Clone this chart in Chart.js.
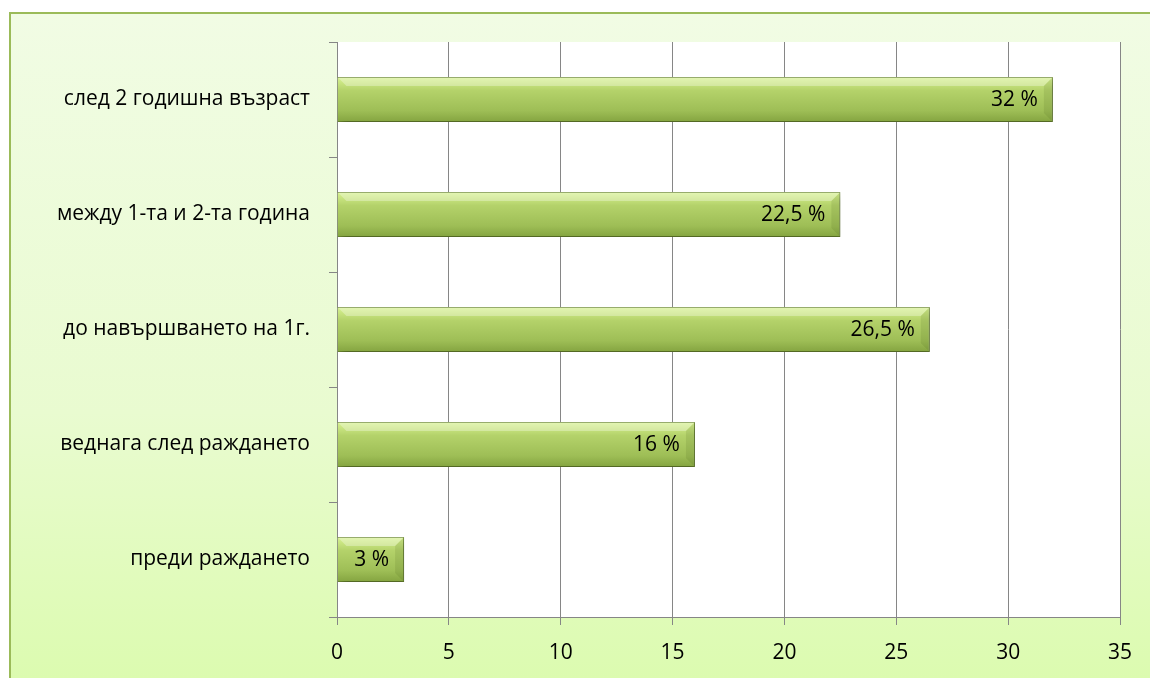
<!DOCTYPE html>
<html>
<head>
<meta charset="utf-8">
<script src="https://cdn.jsdelivr.net/npm/chart.js@4"></script>
<style>
  body { margin: 0; background: #ffffff; }
  #frame {
    position: absolute; left: 9px; top: 12px; width: 1141px; height: 666px;
    border-left: 2px solid #9bbb59; border-top: 2px solid #9bbb59;
    background: linear-gradient(to bottom, #f1fce4 0%, #e9fbd0 60%, #dcfbb0 100%);
    box-sizing: border-box;
  }
  #chart { position: absolute; left: 0; top: 0; }
</style>
</head>
<body>
<div id="frame"></div>
<canvas id="chart" width="1150" height="678"></canvas>
<script>
// categories top to bottom
const categories = [
    'след 2 годишна възраст',
    'между 1-та и 2-та година',
    'до навършването на 1г.',
    'веднага след раждането',
    'преди раждането'
];
const values = [32, 22.5, 26.5, 16, 3];
const valueLabels = ['32 %', '22,5 %', '26,5 %', '16 %', '3 %'];
const xTicks = [0, 5, 10, 15, 20, 25, 30, 35];

const FONT = '"Open Sans", "DejaVu Sans", sans-serif';
const FONT_SIZE = 21;
const BAR_PCT = 0.39;

// white plot area, bar shadow, bevel and value labels
const plotBg = {
    id: 'plotBg',
    beforeDraw(chart) {
        const a = chart.chartArea, ctx = chart.ctx;
        ctx.save();
        ctx.fillStyle = '#ffffff';
        ctx.fillRect(a.left, a.top, a.right - a.left, a.bottom - a.top);
        ctx.restore();
    },
    beforeDatasetsDraw(chart) {
        const ctx = chart.ctx;
        ctx.save();
        ctx.shadowColor = 'rgba(0,0,0,0.3)';
        ctx.shadowBlur = 7;
        ctx.shadowOffsetX = 3;
        ctx.shadowOffsetY = 4;
    },
    afterDatasetsDraw(chart) {
        chart.ctx.restore();
        const ctx = chart.ctx;
        const meta = chart.getDatasetMeta(0);
        meta.data.forEach((bar, i) => {
            const top = bar.y - bar.height / 2;
            const bot = bar.y + bar.height / 2;
            const left = bar.base, right = bar.x;
            ctx.save();
            ctx.fillStyle = 'rgba(255,255,255,0.3)';
            ctx.beginPath();
            ctx.moveTo(left, top); ctx.lineTo(right, top);
            ctx.lineTo(right - 9, top + 9); ctx.lineTo(left + 9, top + 9);
            ctx.closePath(); ctx.fill();
            ctx.fillStyle = 'rgba(60,80,20,0.12)';
            ctx.beginPath();
            ctx.moveTo(right, top); ctx.lineTo(right, bot);
            ctx.lineTo(right - 9, bot - 9); ctx.lineTo(right - 9, top + 9);
            ctx.closePath(); ctx.fill();
            ctx.fillStyle = '#000000';
            ctx.font = FONT_SIZE + 'px ' + FONT;
            ctx.textAlign = 'right';
            ctx.textBaseline = 'middle';
            ctx.fillText(valueLabels[i], right - 15, bar.y + 1);
            ctx.restore();
        });
    }
};

function barGradient(context) {
    const chart = context.chart;
    const a = chart.chartArea;
    const ys = chart.scales && chart.scales.y;
    if (!a || !ys || context.dataIndex === undefined) return '#9bbb59';
    const cy = ys.getPixelForValue(context.dataIndex);
    const h = (a.bottom - a.top) / categories.length * BAR_PCT;
    if (!isFinite(cy) || !isFinite(h)) return '#9bbb59';
    const g = chart.ctx.createLinearGradient(0, cy - h / 2, 0, cy + h / 2);
    g.addColorStop(0, '#d8f292');
    g.addColorStop(0.3, '#b4d26a');
    g.addColorStop(0.75, '#9ebe56');
    g.addColorStop(1, '#84a440');
    return g;
}

new Chart(document.getElementById('chart'), {
    type: 'bar',
    data: {
        labels: categories,
        datasets: [{
            data: values,
            backgroundColor: barGradient,
            borderColor: '#6f8c30',
            borderWidth: 1,
            barPercentage: BAR_PCT,
            categoryPercentage: 1
        }]
    },
    options: {
        indexAxis: 'y',
        responsive: false,
        animation: false,
        layout: { padding: { top: 42, right: 30, left: 0, bottom: 0 } },
        plugins: { legend: { display: false }, tooltip: { enabled: false } },
        scales: {
            x: {
                min: 0, max: 35,
                afterBuildTicks(axis) { axis.ticks = xTicks.map(v => ({ value: v })); },
                afterFit(axis) { axis.height = 61; },
                grid: { color: '#868686', lineWidth: 1, tickLength: 8 },
                border: { color: '#868686' },
                ticks: { color: '#000000', padding: 15, font: { family: FONT, size: FONT_SIZE } }
            },
            y: {
                afterFit(axis) { axis.width = 337; },
                grid: { drawOnChartArea: false, color: '#868686', tickLength: 8, offset: true },
                border: { color: '#868686' },
                ticks: { color: '#000000', padding: 19, font: { family: FONT, size: FONT_SIZE } }
            }
        }
    },
    plugins: [plotBg]
});
</script>
</body>
</html>
